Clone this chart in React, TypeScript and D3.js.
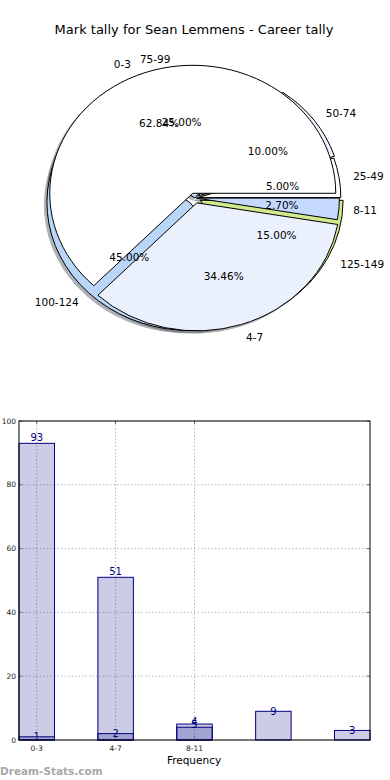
import React, { useEffect, useRef } from "react";
import * as d3 from "d3";

// Career tally (first pie + first bar series)
const careerLabels = ["0-3", "4-7", "8-11"];
const careerCounts = [93, 51, 4];

// Second tally (second pie + second bar series)
const otherLabels = ["25-49", "50-74", "75-99", "100-124", "125-149"];
const otherCounts = [1, 2, 5, 9, 3];

const yTicks = [0, 20, 40, 60, 80, 100];

// styling for the pies
const careerColors = ["#ffffff", "#eaf1fd", "#c4d9fd"];
const otherColors = ["#ffffff", "#eaf1fd", "#c4d9fd", "#b9d6f9", "#d2e98c"];
const careerExplode = [0.04, 0.04, 0.01];
const otherExplode = [0.02, 0.03, 0, 0.05, 0.04];

const FONT = "DejaVu Sans, sans-serif";

export default function App() {
  const ref = useRef<SVGSVGElement>(null);

  useEffect(() => {
    var svg = d3.select(ref.current);
    svg.selectAll("*").remove();

    // Title
    svg
      .append("text")
      .attr("x", 194)
      .attr("y", 34)
      .attr("text-anchor", "middle")
      .style("font-family", FONT)
      .style("font-size", "13px")
      .text("Mark tally for Sean Lemmens - Career tally");

    // ---------- Pie part ----------
    var cx = 195,
      cy = 198,
      rx = 143,
      ry = 128;

    // matplotlib style: start at 3 o'clock, counter-clockwise
    var pie = d3
      .pie<number>()
      .sort(null)
      .value((d) => d)
      .startAngle(Math.PI / 2)
      .endAngle(Math.PI / 2 - 2 * Math.PI);

    var arc = d3.arc<any>().innerRadius(0).outerRadius(rx);

    var pies = [
      { counts: otherCounts, labels: otherLabels, colors: otherColors, explode: otherExplode },
      { counts: careerCounts, labels: careerLabels, colors: careerColors, explode: careerExplode },
    ];

    var pieG = svg
      .append("g")
      .attr("transform", `translate(${cx},${cy}) scale(1,${ry / rx})`);

    var shadowG = pieG.append("g");
    var wedgeG = pieG.append("g");
    var textG = svg.append("g");

    pies.forEach((p) => {
      var total = d3.sum(p.counts);
      var arcs = pie(p.counts);
      arcs.forEach((a, i) => {
        var mid = (a.startAngle + a.endAngle) / 2;
        var e = p.explode[i];
        var ox = e * rx * Math.sin(mid),
          oy = -e * rx * Math.cos(mid);
        var c = d3.rgb(p.colors[i]);
        var shade = d3.rgb(c.r * 0.3, c.g * 0.3, c.b * 0.3).toString();

        // shadow
        shadowG
          .append("path")
          .attr("d", arc(a))
          .attr("transform", `translate(${ox - 0.018 * rx},${oy + 0.018 * rx})`)
          .attr("fill", shade)
          .attr("stroke", shade)
          .attr("vector-effect", "non-scaling-stroke")
          .attr("opacity", 0.4);

        // wedge
        wedgeG
          .append("path")
          .attr("d", arc(a))
          .attr("transform", `translate(${ox},${oy})`)
          .attr("fill", p.colors[i])
          .attr("stroke", "#000")
          .attr("stroke-width", 1)
          .attr("stroke-linejoin", "round")
          .attr("vector-effect", "non-scaling-stroke");

        // labels
        var dx = Math.sin(mid),
          dy = -Math.cos(mid);
        textG
          .append("text")
          .attr("x", cx + (e + 1.1) * rx * dx)
          .attr("y", cy + (e + 1.1) * ry * dy)
          .attr("text-anchor", dx > 0 ? "start" : "end")
          .attr("dominant-baseline", "central")
          .style("font-family", FONT)
          .style("font-size", "10.5px")
          .text(p.labels[i]);

        textG
          .append("text")
          .attr("x", cx + (e + 0.6) * rx * dx)
          .attr("y", cy + (e + 0.6) * ry * dy)
          .attr("text-anchor", "middle")
          .attr("dominant-baseline", "central")
          .style("font-family", FONT)
          .style("font-size", "10.5px")
          .text(((p.counts[i] / total) * 100).toFixed(2) + "%");
      });
    });

    // ---------- Bar part ----------
    var left = 19,
      right = 370,
      top = 421,
      bottom = 740,
      bw = 0.45;

    var x = d3.scaleLinear().domain([-bw / 2, otherCounts.length - 1 + bw / 2]).range([left, right]);
    var y = d3.scaleLinear().domain([0, 100]).range([bottom, top]);

    var bars = svg.append("g");

    // grid
    bars
      .selectAll(".hgrid")
      .data(yTicks)
      .join("line")
      .attr("x1", left)
      .attr("x2", right)
      .attr("y1", (d) => y(d))
      .attr("y2", (d) => y(d))
      .attr("stroke", "#b8b8b8")
      .attr("stroke-dasharray", "1.5,2");

    bars
      .selectAll(".vgrid")
      .data(careerLabels)
      .join("line")
      .attr("x1", (d, i) => x(i))
      .attr("x2", (d, i) => x(i))
      .attr("y1", top)
      .attr("y2", bottom)
      .attr("stroke", "#b8b8b8")
      .attr("stroke-dasharray", "1.5,2");

    // series 1 (career)
    bars
      .selectAll(".barA")
      .data(careerCounts)
      .join("rect")
      .attr("x", (d, i) => x(i - bw / 2))
      .attr("y", (d) => y(d))
      .attr("width", x(bw) - x(0))
      .attr("height", (d) => bottom - y(d))
      .attr("fill", "#000080")
      .attr("fill-opacity", 0.2)
      .attr("stroke", "#000080");

    // series 2
    bars
      .selectAll(".barB")
      .data(otherCounts)
      .join("rect")
      .attr("x", (d, i) => x(i - bw / 2))
      .attr("y", (d) => y(d))
      .attr("width", x(bw) - x(0))
      .attr("height", (d) => bottom - y(d))
      .attr("fill", "#000080")
      .attr("fill-opacity", 0.2)
      .attr("stroke", "#000080");

    // value labels
    bars
      .selectAll(".labA")
      .data(careerCounts)
      .join("text")
      .attr("x", (d, i) => x(i))
      .attr("y", (d) => y(d) - 2.5)
      .attr("text-anchor", "middle")
      .attr("fill", "#000080")
      .style("font-family", FONT)
      .style("font-size", "10px")
      .text((d) => d);

    bars
      .selectAll(".labB")
      .data(otherCounts)
      .join("text")
      .attr("x", (d, i) => x(i))
      .attr("y", (d) => y(d))
      .attr("text-anchor", "middle")
      .attr("dominant-baseline", "central")
      .attr("fill", "#000080")
      .style("font-family", FONT)
      .style("font-size", "10px")
      .text((d) => d);

    // ticks (inward)
    yTicks.forEach((t) => {
      bars.append("line").attr("x1", left).attr("x2", left + 3).attr("y1", y(t)).attr("y2", y(t)).attr("stroke", "#666");
      bars.append("line").attr("x1", right).attr("x2", right - 3).attr("y1", y(t)).attr("y2", y(t)).attr("stroke", "#666");
      bars
        .append("text")
        .attr("x", 16)
        .attr("y", y(t))
        .attr("text-anchor", "end")
        .attr("dominant-baseline", "central")
        .attr("fill", "#222")
        .style("font-family", FONT)
        .style("font-size", "7.5px")
        .text(t);
    });

    careerLabels.forEach((l, i) => {
      bars.append("line").attr("x1", x(i)).attr("x2", x(i)).attr("y1", bottom).attr("y2", bottom - 3).attr("stroke", "#666");
      bars.append("line").attr("x1", x(i)).attr("x2", x(i)).attr("y1", top).attr("y2", top + 3).attr("stroke", "#666");
      bars
        .append("text")
        .attr("x", x(i))
        .attr("y", bottom + 8)
        .attr("text-anchor", "middle")
        .attr("dominant-baseline", "central")
        .attr("fill", "#222")
        .style("font-family", FONT)
        .style("font-size", "7.5px")
        .text(l);
    });

    // frame
    bars
      .append("rect")
      .attr("x", left)
      .attr("y", top)
      .attr("width", right - left)
      .attr("height", bottom - top)
      .attr("fill", "none")
      .attr("stroke", "#000");

    // x label
    bars
      .append("text")
      .attr("x", 194)
      .attr("y", 760)
      .attr("text-anchor", "middle")
      .attr("dominant-baseline", "central")
      .style("font-family", FONT)
      .style("font-size", "10.5px")
      .text("Frequency");

    // watermark
    svg
      .append("text")
      .attr("x", 0)
      .attr("y", 775)
      .attr("fill", "#a8a8a8")
      .style("font-family", "DejaVu Sans, sans-serif")
      .style("font-weight", "bold")
      .style("font-size", "10.5px")
      .text("Dream-Stats.com");
  }, []);

  return (
    <svg
      ref={ref}
      width={390}
      height={780}
      style={{ position: "absolute", left: 0, top: 0, background: "#fff" }}
    ></svg>
  );
}
